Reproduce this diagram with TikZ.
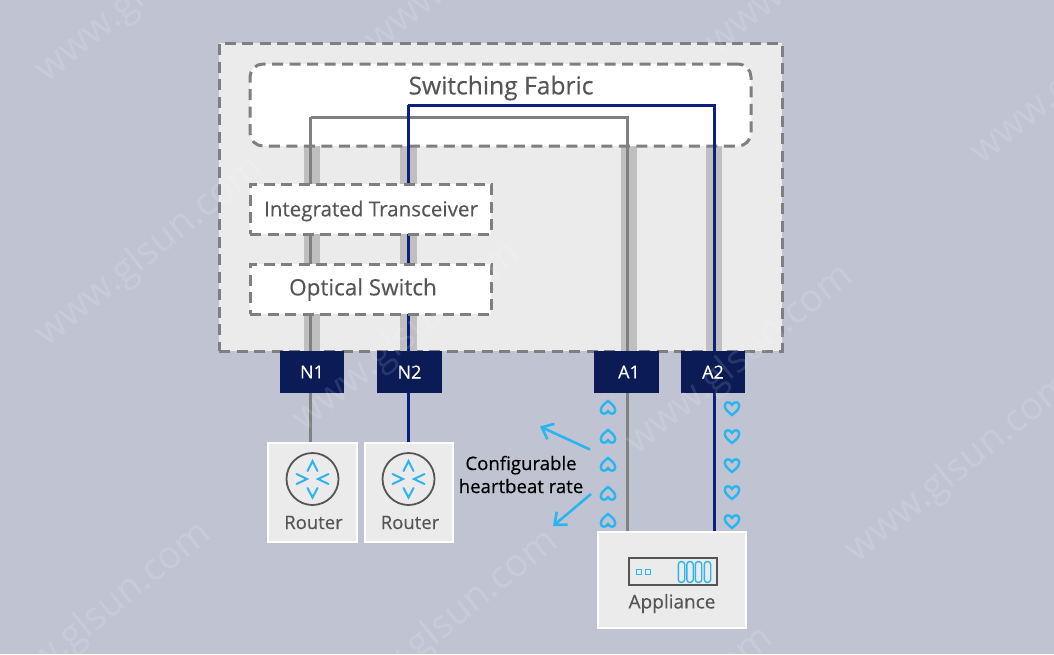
\documentclass[tikz,border=0pt]{standalone}
\usepackage{fontspec}
\setmainfont{Open Sans}
\usetikzlibrary{arrows.meta}
\definecolor{bgc}{HTML}{C0C4D2}
\definecolor{panel}{HTML}{EBEBEB}
\definecolor{dashc}{HTML}{7F7F7F}
\definecolor{band}{HTML}{BFBFBF}
\definecolor{grayline}{HTML}{808080}
\definecolor{blueline}{HTML}{0A1F7E}
\definecolor{navy}{HTML}{0B1B56}
\definecolor{cyanc}{HTML}{2BB5EE}
\definecolor{txt}{HTML}{555555}
\newcommand{\fb}{\addfontfeature{FakeBold=0.3}}
\tikzset{
  dashbox/.style={draw=dashc,line width=3pt,dash pattern=on 11pt off 6.5pt,inner sep=0pt,anchor=center},
  port/.style={fill=navy,text=white,inner sep=0pt,minimum width=64.5pt,minimum height=42pt,font=\fontsize{18}{18}\selectfont\fb},
  whitecard/.style={fill=panel,draw=white,line width=2pt,inner sep=0pt},
  lab/.style={text=txt,inner sep=0pt},
  bigl/.style={lab,font=\fontsize{24.6}{26}\selectfont\fb},
  midl/.style={lab,font=\fontsize{20.6}{22}\selectfont\fb},
  optl/.style={lab,font=\fontsize{22.5}{24}\selectfont\fb},
  smalll/.style={lab,font=\fontsize{18.5}{20}\selectfont\fb},
  appl/.style={lab,font=\fontsize{19}{20}\selectfont\fb},
  bandl/.style={band,line width=16.5pt},
  gline/.style={grayline,line width=3pt},
  bline/.style={blueline,line width=3pt},
  chev/.style={cyanc,line width=2pt,line cap=round,line join=miter},
  hrt/.style={cyanc,line width=2.4pt},
  wm/.style={text=white,opacity=0.12,rotate=39,inner sep=0pt,font=\fontsize{38}{38}\selectfont},
  callout/.style={cyanc,line width=2.6pt,-{Straight Barb[length=10pt,width=17pt,line width=2.6pt]}},
  pics/heart/.style={code={
    \draw[hrt] (0,7) .. controls (-4,3.8) and (-7.2,1.3) .. (-7.2,-2.4)
      .. controls (-7.2,-6.2) and (-2.2,-7.2) .. (0,-3)
      .. controls (2.2,-7.2) and (7.2,-6.2) .. (7.2,-2.4)
      .. controls (7.2,1.3) and (4,3.8) .. (0,7) -- cycle;
  }},
  pics/routericon/.style={code={
    \draw[draw=txt,line width=1.8pt] (0,0) circle (26);
    \draw[chev] (-5,-8) -- (0,-18) -- (5,-8);
    \draw[chev] (-5,9) -- (0,18.5) -- (5,9);
    \draw[chev] (-16,-5) -- (-5.5,0) -- (-16,5);
    \draw[chev] (16,-5) -- (5.5,0) -- (16,5);
  }}
}
\begin{document}
\begin{tikzpicture}[x=1pt,y=-1pt]
\useasboundingbox (0,0) rectangle (1054,654);
\fill[bgc] (0,0) rectangle (1054,654);
% housing
\node[dashbox,fill=panel,minimum width=563pt,minimum height=308pt] (outer) at (500.5,197) {};
% connection points
\coordinate (n1top) at (310.8,117);
\coordinate (n2top) at (408,105);
\coordinate (a1top) at (627.3,117);
\coordinate (a2top) at (714,105);
\coordinate (n1bandtop) at (312,146);
\coordinate (n2bandtop) at (408.5,146);
\coordinate (a1bandtop) at (629,146);
\coordinate (a2bandtop) at (714,146);
% grey bands behind the lines
\draw[bandl] (n1bandtop) -- (n1bandtop |- outer.south);
\draw[bandl] (n2bandtop) -- (n2bandtop |- outer.south);
\draw[bandl] (a1bandtop) -- (a1bandtop |- outer.south);
\draw[bandl] (a2bandtop) -- (a2bandtop |- outer.south);
% fabric
\node[dashbox,fill=white,rounded corners=13pt,minimum width=501pt,minimum height=82pt] (fabric) at (500.5,105) {};
\node[bigl] (fabriclab) at (501,88) {Switching Fabric};
% end devices
\node[whitecard,minimum width=89pt,minimum height=99pt] (r1) at (312.5,492.5) {};
\node[whitecard,minimum width=88pt,minimum height=99pt] (r2) at (409,492.5) {};
\node[whitecard,minimum width=148pt,minimum height=96pt] (app) at (672,580) {};
% connectors
\draw[gline,line join=miter] (n1top -| r1.north) ++(-1.7,0) coordinate (g1) (g1) -- (a1top) -- (a1top |- app.north);
\draw[gline] (g1) -- (g1 |- r1.north);
\draw[bline,line join=miter] (n2top) -- (a2top) -- (a2top |- app.north);
\draw[bline] (n2top) -- (n2top |- r2.north);
% inner boxes
\node[dashbox,fill=white,minimum width=241pt,minimum height=50pt] (trans) at (370.5,209) {};
\node[midl] (translab) at (371,211) {Integrated Transceiver};
\node[dashbox,fill=white,minimum width=241pt,minimum height=50pt] (optical) at (370.5,289) {};
\node[optl] (opticallab) at (363,289.5) {Optical Switch};
% ports
\node[port] (N1) at (312,372) {N1};
\node[port] (N2) at (409.5,372) {N2};
\node[port] (A1) at (626.5,372) {\hspace*{5pt}A1};
\node[port] (A2) at (713,372) {A2};
% routers
\pic at (312.5,479) {routericon};
\pic at (408.5,479) {routericon};
\node[smalll] (r1lab) at (313.5,522.5) {Router};
\node[smalll] (r2lab) at (410,522.5) {Router};
% appliance
\node[draw=txt,line width=2pt,fill=panel,minimum width=88pt,minimum height=27pt,inner sep=0pt] (dev) at (673,571.5) {};
\foreach \px in {639,648} \draw[cyanc,line width=1.6pt] (\px-2.5,569.5) rectangle (\px+2.5,574.5);
\foreach \px in {681.5,690,698.5,707.5}
  \draw[cyanc,line width=1.4pt,rounded corners=3pt] (\px-3.2,561.5) rectangle (\px+3.2,582.5);
\node[appl] (applab) at (672,603.5) {Appliance};
% heartbeats
\foreach \hy in {408,437,465,494,521} \pic[rotate=180] at (608,\hy) {heart};
\foreach \hy in {408,436,465,492,521} \pic at (732,\hy) {heart};
% callout
\node[text=black,inner sep=0pt,align=center,font=\fontsize{18.6}{23}\selectfont\addfontfeature{FakeBold=0.4}] (rate) at (521,474.5) {Configurable\\heartbeat rate};
\coordinate (upfrom) at (590,449.5);
\coordinate (upto) at (540,426.5);
\coordinate (downfrom) at (591,494);
\coordinate (downto) at (553,526);
\draw[callout] (upfrom) -- (upto);
\draw[callout] (downfrom) -- (downto);
% watermark
\foreach \i/\wx/\wy in {1/150/-12,2/150/252,3/407/337,4/740/360,5/960/468,6/1085/70,7/98/617,8/445/625,9/660/722,10/480/-42,11/820/-40}
  \node[wm] (wm\i) at (\wx,\wy) {www.glsun.com};
\end{tikzpicture}
\end{document}
